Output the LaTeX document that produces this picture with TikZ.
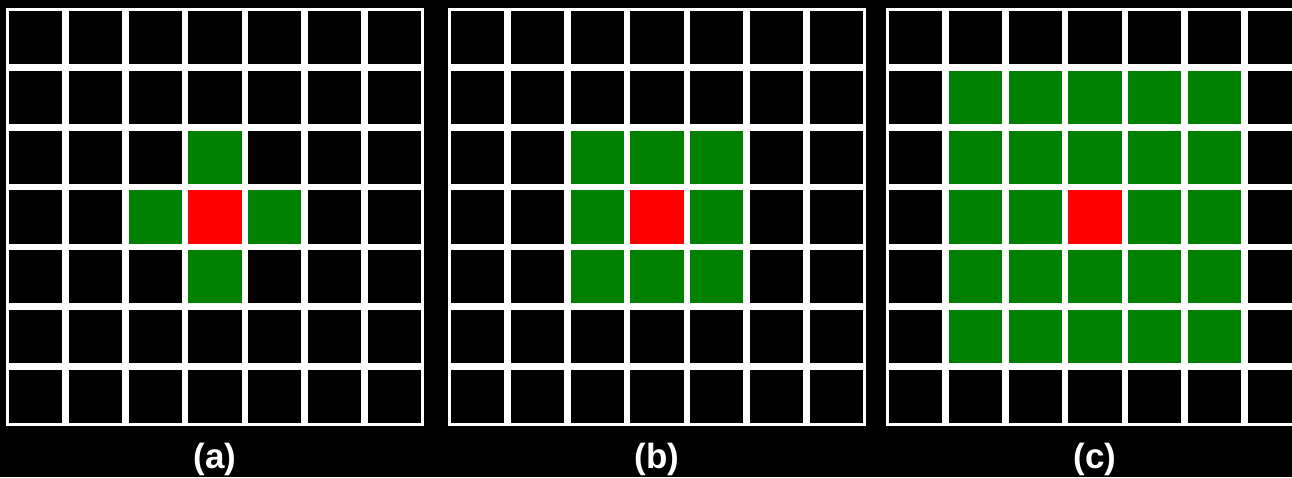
\documentclass[tikz,border=0pt]{standalone}
\usepackage{fontspec}
\setmainfont{Liberation Sans}
\definecolor{cellgreen}{RGB}{0,128,0}
\definecolor{cellred}{RGB}{255,0,0}
\begin{document}
\begin{tikzpicture}[x=1pt,y=-1pt,
  gridbg/.style={fill=white},
  cellblack/.style={fill=black},
  cellg/.style={fill=cellgreen},
  cellr/.style={fill=cellred},
  lab/.style={text=white,font=\bfseries\fontsize{35}{35}\selectfont,anchor=base,inner sep=0pt}]
\def\P{59.714}
\def\H{3.3}
\def\C{53.114}
\useasboundingbox (0,0) rectangle (1292,477);
\fill[black] (0,0) rectangle (1292,477);
\clip (0,0) rectangle (1292,477);
% three grids
\foreach \xo/\gl in {6/{3/2,2/3,4/3,3/4},
                     448/{2/2,3/2,4/2,2/3,4/3,2/4,3/4,4/4},
                     886/{1/1,2/1,3/1,4/1,5/1,1/2,2/2,3/2,4/2,5/2,1/3,2/3,4/3,5/3,1/4,2/4,3/4,4/4,5/4,1/5,2/5,3/5,4/5,5/5}}{
  \fill[gridbg] (\xo,8) rectangle ++(418,418);
  \foreach \i in {0,...,6}{
    \foreach \j in {0,...,6}{
      \fill[cellblack] ({\xo+\i*\P+\H},{8+\j*\P+\H}) rectangle ++(\C,\C);
    }
  }
  \foreach \i/\j in \gl{
    \fill[cellg] ({\xo+\i*\P+\H},{8+\j*\P+\H}) rectangle ++(\C,\C);
  }
  \fill[cellr] ({\xo+3*\P+\H},{8+3*\P+\H}) rectangle ++(\C,\C);
}
\node[lab] (la) at (215,468) {(a)};
\node[lab] (lb) at (657,468) {(b)};
\node[lab] (lc) at (1095,468) {(c)};
\end{tikzpicture}
\end{document}
